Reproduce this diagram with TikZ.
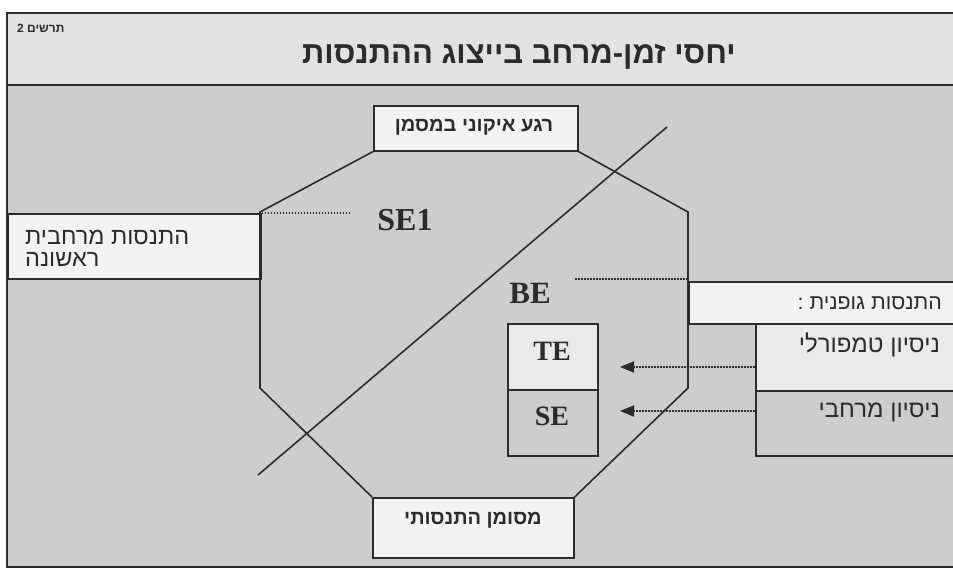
\documentclass[tikz,border=0pt]{standalone}
\usepackage{fontspec}
\setmainfont{Liberation Serif}
\newfontfamily\heb[Script=Hebrew]{Liberation Sans}
\TeXXeTstate=1
\usetikzlibrary{arrows.meta}
\definecolor{hdr}{HTML}{E2E2E2}
\definecolor{bgc}{HTML}{CDCDCD}
\definecolor{boxw}{HTML}{F3F3F3}
\definecolor{boxl}{HTML}{EAEAEA}
\definecolor{ink}{HTML}{2B2B2B}
\tikzset{
  hbox/.style={draw=ink, fill=boxw, line width=1.6pt, inner sep=0pt, anchor=north west},
  htxt/.style={text=ink, inner sep=0pt, font=\heb\fontsize{#1}{#1}\selectfont},
  hbold/.style={text=ink, inner sep=0pt, font=\heb\bfseries\fontsize{#1}{#1}\selectfont},
  lat/.style={text=ink, inner sep=0pt, font=\bfseries\fontsize{#1}{#1}\selectfont},
  edge/.style={draw=ink, line width=1.6pt},
  dotl/.style={draw=ink, line width=2pt, dash pattern=on 1.6pt off 1.4pt},
  arr/.style={dotl, -{Triangle[length=14pt,width=11pt]}}
}
\begin{document}
\begin{tikzpicture}[x=1pt,y=-1pt]
\useasboundingbox (0,0) rectangle (953,569);
% frame
\fill[hdr] (7,13) rectangle (953,85);
\fill[bgc] (7,85) rectangle (953,567);
\draw[edge, line width=1.8pt] (953,13) -- (7,13) -- (7,567) -- (953,567);
\draw[edge, line width=2pt] (7,85) -- (953,85);
\node[hbold=12, anchor=west] (fig) at (17,28) {\beginR תרשים 2\endR};
\node[hbold=31] (title) at (519,57) {\beginR יחסי זמן-מרחב בייצוג ההתנסות\endR};
% boxes
\node[hbox, minimum width=204pt, minimum height=45pt] (top) at (373,105) {};
\node[hbox, minimum width=201pt, minimum height=60pt] (bot) at (372,497) {};
\node[hbox, minimum width=253pt, minimum height=65pt] (left) at (7,213) {};
\node[hbox, minimum width=267pt, minimum height=42pt] (right) at (688,281) {};
\node[hbox, fill=boxl, minimum width=200pt, minimum height=67pt] (tempo) at (755,323) {};
\node[hbox, fill=bgc, minimum width=200pt, minimum height=65pt] (spat) at (755,390) {};
\node[hbox, fill=boxl, minimum width=90pt, minimum height=66pt] (te) at (507,323) {};
\node[hbox, fill=bgc, minimum width=90pt, minimum height=66pt] (se) at (507,389) {};
% octagon
\coordinate (o1) at (260,212);
\coordinate (o2) at (260,388);
\coordinate (o3) at (688,212);
\coordinate (o4) at (688,388);
\draw[edge] (top.south west) -- (o1) -- (o2) -- (bot.north west);
\draw[edge] (top.south east) -- (o3) -- (o4) -- (bot.north east);
% diagonal
\coordinate (dA) at (258,475);
\coordinate (dB) at (667,127);
\draw[edge] (dA) -- (dB);
% texts
\node[hbold=20] (toptxt) at (474,127) {\beginR רגע איקוני במסמן\endR};
\node[hbold=20] (bottxt) at (473,520) {\beginR מסומן התנסותי\endR};
\node[htxt=23.5, anchor=west] (l1) at (25,237) {\beginR התנסות מרחבית\endR};
\node[htxt=23.5, anchor=west] (l2) at (25,260) {\beginR ראשונה\endR};
\node[htxt=21.3, anchor=east] (rtxt) at (942,303) {\beginR התנסות גופנית :\endR};
\node[htxt=24, anchor=east] (ttxt) at (940,345) {\beginR ניסיון טמפורלי\endR};
\node[htxt=24, anchor=east] (stxt) at (940,412) {\beginR ניסיון מרחבי\endR};
\node[lat=32] (se1) at (405,220) {SE1};
\node[lat=31] (be) at (530,293) {BE};
\node[lat=28] (tel) at (552,351.5) {TE};
\node[lat=28] (sel) at (552,416.5) {SE};
% dotted lines
\coordinate (c1) at (350,213);
\draw[dotl] (left.north east) -- (c1);
\coordinate (c2) at (575,279);
\draw[dotl] (688,279) -- (c2);
\coordinate (t1) at (620,367);
\coordinate (t2) at (620,411);
\draw[arr] (tempo.west |- t1) -- (t1);
\draw[arr] (spat.west |- t2) -- (t2);
\end{tikzpicture}
\end{document}
